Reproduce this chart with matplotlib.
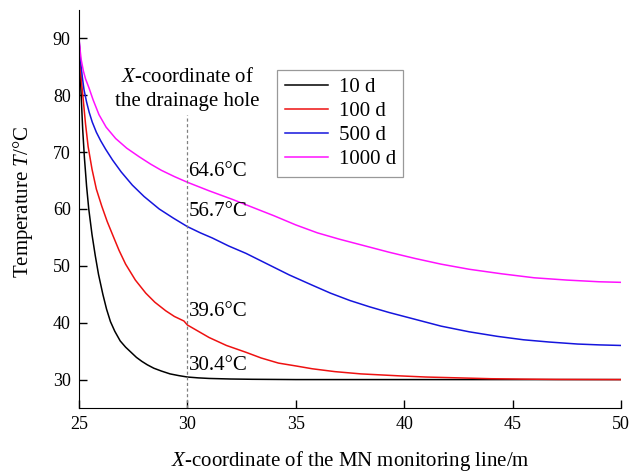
import matplotlib
matplotlib.use("Agg")
import matplotlib.pyplot as plt

plt.rcParams['font.family'] = ['Liberation Serif', 'DejaVu Serif']
plt.rcParams['mathtext.fontset'] = 'custom'
plt.rcParams['mathtext.it'] = 'Liberation Serif:italic'
plt.rcParams['mathtext.rm'] = 'Liberation Serif'

# values
x_10 = [25, 25.05, 25.1, 25.17, 25.25, 25.35, 25.45, 25.6, 25.75, 25.9, 26.1, 26.27, 26.45, 26.65,
        26.9, 27.15, 27.4, 27.65, 27.9, 28.15, 28.45, 28.8, 29.2, 29.6, 30, 30.5, 31, 32, 33, 35, 50]
t_10 = [90, 84.5, 80, 74, 69, 64, 60, 55.5, 51.8, 48.5, 45, 42.4, 40.2, 38.5,
        36.8, 35.7, 34.8, 33.9, 33.2, 32.6, 32.0, 31.5, 31.0, 30.7, 30.45, 30.3, 30.2, 30.1, 30.05, 30.0, 30.0]

x_100 = [25, 25.05, 25.1, 25.2, 25.3, 25.42, 25.6, 25.8, 26.05, 26.3, 26.6, 26.85, 27.15, 27.6,
         28.08, 28.5, 29.0, 29.4, 29.84, 30, 30.5, 31, 31.8, 32.7, 33.4, 34.2, 35, 35.76, 36.8,
         38, 39.8, 41, 42.5, 44, 45.5, 47, 50]
t_100 = [90, 86, 83, 79, 75, 71, 67, 63.5, 60.5, 57.8, 55, 52.7, 50.3, 47.5,
         45.2, 43.6, 42.1, 41.1, 40.3, 39.6, 38.5, 37.4, 36.0, 34.8, 33.8, 32.9, 32.4, 31.9, 31.4,
         31.0, 30.65, 30.45, 30.3, 30.15, 30.08, 30.03, 30.0]

x_500 = [25, 25.05, 25.1, 25.16, 25.23, 25.35, 25.47, 25.61, 25.8, 26.0, 26.23, 26.55, 26.95,
         27.46, 28.0, 28.7, 29.35, 30, 30.6, 31.15, 31.9, 32.7, 33.7, 34.7, 35.76, 36.6, 37.5,
         38.4, 39.3, 40.5, 41.7, 43, 44.3, 45.5, 46.7, 48, 49, 50]
t_500 = [90, 87, 85, 83, 81, 78.8, 77, 75.3, 73.5, 72, 70.5, 68.6, 66.5,
         64.2, 62.2, 60, 58.4, 56.9, 55.8, 54.9, 53.5, 52.2, 50.3, 48.4, 46.6, 45.2, 43.9,
         42.8, 41.8, 40.6, 39.4, 38.4, 37.6, 37.0, 36.6, 36.25, 36.1, 36.0]

x_1000 = [25, 25.05, 25.1, 25.2, 25.3, 25.46, 25.65, 25.92, 26.25, 26.69, 27.2, 27.77, 28.3,
          28.8, 29.4, 30, 31, 32.07, 33, 34, 35, 36, 37, 38, 39.3, 40.5, 41.7, 43, 44.5, 46,
          47.5, 49, 50]
t_1000 = [90, 88, 86.3, 84.3, 82.9, 81.3, 79.2, 76.6, 74.4, 72.4, 70.7, 69.2, 67.9,
          66.8, 65.7, 64.7, 63.2, 61.7, 60.3, 58.8, 57.2, 55.8, 54.7, 53.7, 52.4, 51.3, 50.3, 49.4, 48.6, 47.9,
          47.5, 47.2, 47.1]

series = [(x_10, t_10, '10 d', 'black'),
          (x_100, t_100, '100 d', '#ee1111'),
          (x_500, t_500, '500 d', '#1515dd'),
          (x_1000, t_1000, '1000 d', '#ff11ff')]

hole_x = 30
hole_labels = ['30.4°C', '39.6°C', '56.7°C', '64.6°C']
label_y = [32.4, 42.0, 59.6, 66.6]

fig = plt.figure(figsize=(6.3, 4.73), dpi=100)
ax = fig.add_axes([0.1254, 0.1374, 0.8603, 0.8415])

for xs, ts, name, col in series:
    ax.plot(xs, ts, color=col, lw=1.1, label=name)

ax.plot([hole_x, hole_x], [25, 76.6], color='grey', lw=0.9, ls=(0, (2.5, 2)))
for txt, yy in zip(hole_labels, label_y):
    ax.text(hole_x + 0.05, yy, txt, fontsize=15, va='center', ha='left')
ax.text(hole_x, 81, '$X$-coordinate of\nthe drainage hole', fontsize=15,
        ha='center', va='center', linespacing=1.35)

ax.set_xlim(25, 50)
ax.set_ylim(25, 95)
ax.set_xticks([25, 30, 35, 40, 45, 50])
ax.set_yticks([30, 40, 50, 60, 70, 80, 90])
ax.spines['top'].set_visible(False)
ax.spines['right'].set_visible(False)
ax.tick_params(direction='in', length=6, width=1, labelsize=13, pad=6)
ax.set_xlabel('$X$-coordinate of the MN monitoring line/m', fontsize=15, labelpad=11)
ax.set_ylabel('Temperature $T$/°C', fontsize=15, labelpad=13)
ax.yaxis.label.set_y(0.518)

leg = ax.legend(loc='upper left', bbox_to_anchor=(0.366, 0.849), fontsize=15,
                frameon=True, fancybox=False, edgecolor='grey', handlelength=2.1,
                handletextpad=0.5, labelspacing=0.22, borderpad=0.35, borderaxespad=0)
leg.get_frame().set_linewidth(0.9)

fig.savefig('out.png', dpi=100)
